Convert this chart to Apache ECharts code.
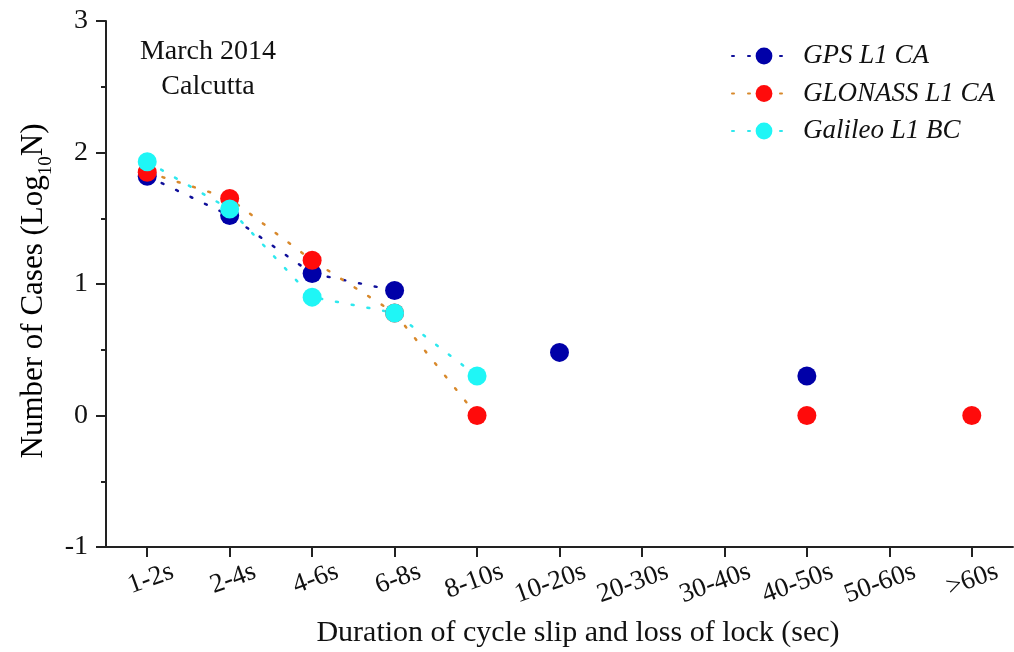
<!DOCTYPE html>
<html>
<head>
<meta charset="utf-8">
<script src="https://cdn.jsdelivr.net/npm/echarts@6/dist/echarts.min.js"></script>
<style>
html,body{margin:0;padding:0;background:#fff;}
#chart{width:1014px;height:652px;}
</style>
</head>
<body>
<div id="chart"></div>
<script>
var categories = ['1-2s','2-4s','4-6s','6-8s','8-10s','10-20s','20-30s','30-40s','40-50s','50-60s','>60s'];
var gpsValues     = [1.82, 1.52, 1.08, 0.95, null, 0.48, null, null, 0.30, null, null];
var glonassValues = [1.85, 1.65, 1.18, 0.78, 0,    null, null, null, 0,    null, 0];
var galileoValues = [1.93, 1.57, 0.90, 0.78, 0.30, null, null, null, null, null, null];
var seriesNames = ['GPS L1 CA', 'GLONASS L1 CA', 'Galileo L1 BC'];
var yTicks = [-1, 0, 1, 2, 3];

var SERIF = '"Liberation Serif", "DejaVu Serif", serif';
var chart = echarts.init(document.getElementById('chart'), null, {renderer: 'canvas'});

function mkSeries(name, data, lineColor, markColor) {
  return {
    name: name, type: 'line', data: data,
    symbol: 'circle', symbolSize: 19,
    connectNulls: false,
    itemStyle: {color: markColor},
    lineStyle: {color: lineColor, width: 2.5, type: [2, 14], cap: 'round'},
    emphasis: {disabled: true},
    animation: false
  };
}

chart.setOption({
  backgroundColor: '#ffffff',
  animation: false,
  grid: {left: 106, right: 1, top: 21, bottom: 105},
  legend: {
    orient: 'vertical', left: 726, top: 37,
    itemWidth: 64, itemHeight: 21, itemGap: 9.5,
    data: seriesNames,
    textStyle: {fontFamily: SERIF, fontStyle: 'italic', fontSize: 27, color: '#111', lineHeight: 28, padding: [0,0,0,2]}
  },
  xAxis: {
    type: 'category', data: categories, boundaryGap: true,
    axisLine: {onZero: false, lineStyle: {color: '#222', width: 2}},
    axisTick: {show: true, alignWithLabel: true, length: 10, lineStyle: {color: '#222', width: 2}},
    axisLabel: {
      interval: 0, rotate: 20, fontFamily: SERIF, fontSize: 27, color: '#111',
      align: 'right', verticalAlign: 'middle', margin: 33, padding: [0, -27, 0, 0]
    },
    splitLine: {show: false}
  },
  yAxis: {
    type: 'value', min: yTicks[0], max: yTicks[yTicks.length-1], interval: 1,
    axisLine: {show: true, onZero: false, lineStyle: {color: '#222', width: 2}},
    axisTick: {show: true, length: 10, lineStyle: {color: '#222', width: 2}},
    minorTick: {show: true, splitNumber: 2, length: 5, lineStyle: {color: '#222', width: 2}},
    axisLabel: {fontFamily: SERIF, fontSize: 28, color: '#111', margin: 18},
    splitLine: {show: false}
  },
  graphic: [
    {type: 'text', x: 208, y: 52, style: {text: 'March 2014', font: '28px ' + SERIF, fill: '#111', align: 'center', verticalAlign: 'middle'}},
    {type: 'text', x: 208, y: 87, style: {text: 'Calcutta', font: '28px ' + SERIF, fill: '#111', align: 'center', verticalAlign: 'middle'}},
    {type: 'text', x: 578, y: 633, style: {text: 'Duration of cycle slip and loss of lock (sec)', font: '30px ' + SERIF, fill: '#111', align: 'center', verticalAlign: 'middle'}},
    {type: 'text', x: 32, y: 291, rotation: Math.PI/2,
      style: {
        text: '{a|Number of Cases (Log}{s|10}{a|N)}',
        align: 'center', verticalAlign: 'middle',
        rich: {
          a: {fontFamily: SERIF, fontSize: 31, color: '#111', verticalAlign: 'bottom', lineHeight: 35},
          s: {fontFamily: SERIF, fontSize: 19, color: '#111', verticalAlign: 'bottom', lineHeight: 35, padding: [0,0,-6,0]}
        }
      }}
  ],
  series: [
    mkSeries(seriesNames[0], gpsValues, '#10109a', '#0000a8'),
    mkSeries(seriesNames[1], glonassValues, '#d8892c', '#ff0b0b'),
    mkSeries(seriesNames[2], galileoValues, '#2ee8ee', '#1ff6f6')
  ]
});
</script>
</body>
</html>
